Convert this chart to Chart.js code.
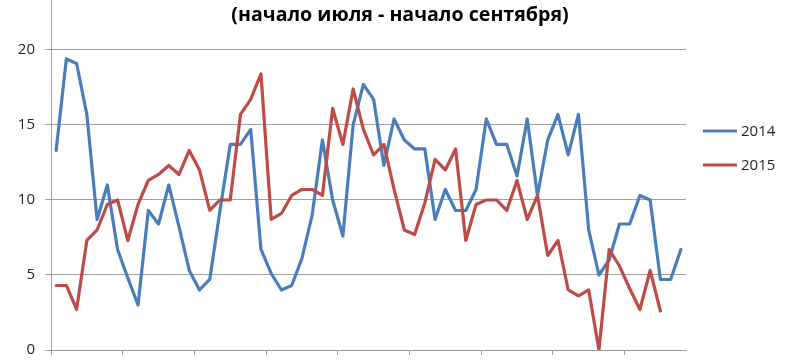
<!DOCTYPE html>
<html>
<head>
<meta charset="utf-8">
<script src="https://cdn.jsdelivr.net/npm/chart.js@4.4.1/dist/chart.umd.min.js"></script>
<style>
html, body { margin: 0; padding: 0; background: #fff; }
#wrap { width: 800px; height: 360px; }
</style>
</head>
<body>
<div id="wrap"><canvas id="chart" width="800" height="360"></canvas></div>
<script>
// Daily values, 1 July - 31 August
const titleText = '(начало июля - начало сентября)';
const seriesNames = ['2014', '2015'];

const values2014 = [
    13.3, 19.4, 19.1, 15.7, 8.7, 11.0, 6.7, 4.8, 3.0, 9.3,
    8.4, 11.0, 8.2, 5.3, 4.0, 4.7, 9.3, 13.7, 13.7, 14.7,
    6.7, 5.1, 4.0, 4.3, 6.1, 9.0, 14.0, 10.0, 7.6, 15.0,
    17.7, 16.7, 12.3, 15.4, 14.0, 13.4, 13.4, 8.7, 10.7, 9.3,
    9.3, 10.7, 15.4, 13.7, 13.7, 11.6, 15.4, 10.3, 14.0, 15.7,
    13.0, 15.7, 8.0, 5.0, 6.0, 8.4, 8.4, 10.3, 10.0, 4.7,
    4.7, 6.7
];

const values2015 = [
    4.3, 4.3, 2.7, 7.3, 8.0, 9.7, 10.0, 7.3, 9.7, 11.3,
    11.7, 12.3, 11.7, 13.3, 12.0, 9.3, 10.0, 10.0, 15.7, 16.7,
    18.4, 8.7, 9.1, 10.3, 10.7, 10.7, 10.3, 16.1, 13.7, 17.4,
    14.7, 13.0, 13.7, 10.7, 8.0, 7.7, 9.8, 12.7, 12.0, 13.4,
    7.3, 9.7, 10.0, 10.0, 9.3, 11.3, 8.7, 10.3, 6.3, 7.3,
    4.0, 3.6, 4.0, 0, 6.7, 5.6, 4.1, 2.7, 5.3, 2.6
];

// category labels: day.month
const days = [];
for (let d = 1; d <= 31; d++) days.push(d + '.07');
for (let d = 1; d <= 31; d++) days.push(d + '.08');

const yTicks = [0, 5, 10, 15, 20];
const yMax = 23.33; // top of the plot sits above the 20 line
const tickEvery = 7;

const overlay = {
    id: 'overlay',
    afterDraw(chart) {
        const ctx = chart.ctx;
        ctx.save();
        ctx.fillStyle = '#000';
        ctx.font = 'bold 19.6px "Open Sans"';
        ctx.textAlign = 'center';
        ctx.textBaseline = 'middle';
        ctx.fillText(titleText, 400, 15);

        // legend on the right
        ctx.font = '15px "Open Sans"';
        ctx.textAlign = 'left';
        chart.data.datasets.forEach((ds, i) => {
            const y = 131 + i * 34;
            ctx.strokeStyle = ds.borderColor;
            ctx.lineWidth = 3;
            ctx.beginPath();
            ctx.moveTo(703, y);
            ctx.lineTo(737, y);
            ctx.stroke();
            ctx.fillStyle = '#262626';
            ctx.fillText(ds.label, 741, y + 1);
        });
        ctx.restore();
    }
};

const ctx = document.getElementById('chart').getContext('2d');
new Chart(ctx, {
    type: 'line',
    data: {
        labels: days,
        datasets: [{
            label: seriesNames[0],
            data: values2014,
            borderColor: '#4a7ebb',
            borderWidth: 3.2,
            order: 1
        }, {
            label: seriesNames[1],
            data: values2015,
            borderColor: '#be4b48',
            borderWidth: 3.2,
            order: 0
        }]
    },
    options: {
        responsive: false,
        animation: false,
        layout: { padding: { left: 0, right: 114, top: 0, bottom: 0 } },
        elements: {
            point: { radius: 0, hoverRadius: 0 },
            line: { tension: 0, borderJoinStyle: 'round', borderCapStyle: 'round' }
        },
        scales: {
            x: {
                offset: true,
                grid: {
                    offset: true,
                    drawOnChartArea: false,
                    drawTicks: true,
                    tickLength: 5,
                    tickColor: c => (c.index % tickEvery === 0 ? '#999' : 'rgba(0,0,0,0)')
                },
                border: { color: '#999' },
                ticks: { display: false, autoSkip: false },
                afterFit: a => { a.height = 10; }
            },
            y: {
                min: 0,
                max: yMax,
                ticks: {
                    stepSize: 5,
                    padding: 10,
                    color: '#262626',
                    font: { family: 'Open Sans', size: 15 }
                },
                grid: { color: '#a0a0a0', tickLength: 6, lineWidth: 1 },
                border: { color: '#a0a0a0' },
                afterBuildTicks: a => {
                    a.ticks = yTicks.map(v => ({ value: v }));
                },
                afterFit: a => {
                    a.width = 51;
                    a.paddingTop = 0;
                    a.paddingBottom = 0;
                }
            }
        },
        plugins: {
            legend: { display: false },
            tooltip: { enabled: false }
        }
    },
    plugins: [overlay]
});
</script>
</body>
</html>
